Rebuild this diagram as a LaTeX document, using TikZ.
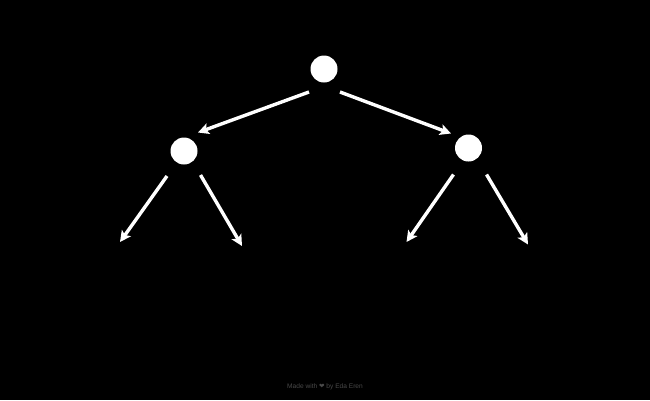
\documentclass[tikz,border=0pt]{standalone}
\usepackage{fontspec}
\setmainfont{Liberation Sans}
\newfontfamily\djv{DejaVu Sans}
\usetikzlibrary{arrows.meta}
\definecolor{footgray}{HTML}{4A4A4A}
\begin{document}
\begin{tikzpicture}[x=1pt,y=-1pt,
  treenode/.style={circle,fill=white,draw=none,minimum size=27pt,inner sep=0pt},
  edge/.style={draw=white,line width=3.4pt,-{Stealth[length=11pt,width=11pt,inset=2.5pt]}},
  foot/.style={text=footgray,font=\fontsize{6.6}{7}\selectfont,inner sep=0pt}]
\fill[black] (0,0) rectangle (650,400);
\useasboundingbox (0,0) rectangle (650,400);
\node[treenode] (root) at (324,69) {};
\node[treenode] (left) at (184,151) {};
\node[treenode] (right) at (468.5,148) {};
% starts and free ends
\coordinate (rL) at ([shift={(-15,23)}]root.center);
\coordinate (rR) at ([shift={(16,23)}]root.center);
\coordinate (lIn) at ([shift={(14,-18.5)}]left.center);
\coordinate (rIn) at ([shift={(-17.5,-14.5)}]right.center);
\coordinate (lL) at ([shift={(-17,25)}]left.center);
\coordinate (lR) at ([shift={(16.5,24)}]left.center);
\coordinate (rLs) at ([shift={(-15,26.5)}]right.center);
\coordinate (rRs) at ([shift={(18,26.5)}]right.center);
\coordinate (leaf1) at (120,242);
\coordinate (leaf2) at (242,246);
\coordinate (leaf3) at (406.5,242);
\coordinate (leaf4) at (528,244.5);
\draw[edge] (rL) -- (lIn);
\draw[edge] (rR) -- (rIn);
\draw[edge] (lL) -- (leaf1);
\draw[edge] (lR) -- (leaf2);
\draw[edge] (rLs) -- (leaf3);
\draw[edge] (rRs) -- (leaf4);
\node[foot] (credit) at (325,387) {Made with {\djv ❤} by Eda Eren};
\end{tikzpicture}
\end{document}
